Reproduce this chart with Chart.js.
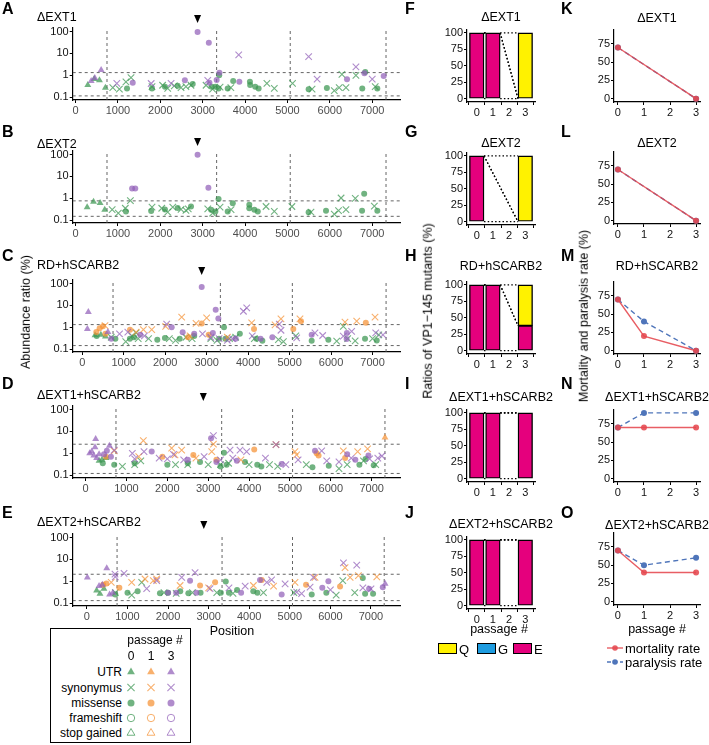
<!DOCTYPE html>
<html>
<head>
<meta charset="utf-8">
<script src="https://cdn.jsdelivr.net/npm/chart.js@4.4.1/dist/chart.umd.min.js"></script>
<style>
  body { margin: 0; background: #fff; }
  #fig { position: relative; width: 709px; height: 745px; overflow: hidden; background: #fff;
         font-family: "Liberation Sans", Arial, Helvetica, sans-serif; }
  #fig canvas { position: absolute; }
  .t { position: absolute; white-space: nowrap; line-height: 1; color: #000; }
</style>
</head>
<body>
<div id="fig"></div>
<script>
// ---------------- data ----------------
// genome landmarks (dashed vertical lines) and the VP1-145 site (arrow)
const genomeBounds = [743, 3330, 5065, 7325];
const vp1Site = 2880;
const posTicks = [0, 1000, 2000, 3000, 4000, 5000, 6000, 7000];
const ratioTicks = [0.1, 1, 10, 100];
const scatterTitles = ['ΔEXT1', 'ΔEXT2', 'RD+hSCARB2', 'ΔEXT1+hSCARB2', 'ΔEXT2+hSCARB2'];
const passageLevels = ['0', '1', '3'];
// variant type codes: u = UTR, s = synonymus, m = missense, f = frameshift, t = stop gained
const variantTypes = ['u', 's', 'm', 'f', 't'];
const variantNames = ['UTR', 'synonymus', 'missense', 'frameshift', 'stop gained'];

// [position, abundance ratio %, type]
const A_p0 = [[290,0.36,'u'],[565,0.59,'u'],[705,0.27,'u'],[440,0.68,'u'],
  [880,0.27,'s'],[1035,0.23,'s'],[1190,0.5,'s'],[1310,0.78,'s'],[1805,0.3,'s'],[2055,0.35,'s'],[2175,0.25,'s'],
  [2330,0.33,'s'],[2490,0.27,'s'],[2605,0.3,'s'],[2725,0.35,'s'],[3080,0.35,'s'],[3235,0.23,'s'],[3410,0.29,'s'],
  [3665,0.27,'s'],[4515,0.43,'s'],[4690,0.25,'s'],[5120,0.43,'s'],[5580,0.23,'s'],[6105,0.2,'s'],[6220,0.27,'s'],
  [6380,0.27,'s'],[6285,1.1,'s'],[6615,1.0,'s'],[7070,0.3,'s'],
  [1215,0.25,'m'],[1805,0.25,'m'],[2110,0.3,'m'],[2410,0.33,'m'],[2765,0.4,'m'],[3210,0.3,'m'],[3300,0.3,'m'],
  [3390,1.0,'m'],[3375,0.25,'m'],[3590,0.25,'m'],[3720,0.55,'m'],[4115,0.51,'m'],[4120,0.36,'m'],[4240,0.3,'m'],
  [4320,0.25,'m'],[5500,0.23,'m'],[5930,0.26,'m'],[6765,0.25,'m'],[6835,1.4,'m'],[7120,0.25,'m']];
const A_p3 = [[605,1.75,'u'],[370,0.55,'u'],[455,0.75,'u'],
  [3850,8.5,'s'],[5500,7.1,'s'],[6615,2.4,'s'],[975,0.43,'s'],[1785,0.42,'s'],[2255,0.43,'s'],[3120,0.59,'s'],
  [5700,0.66,'s'],[7000,0.66,'s'],
  [2880,95,'m'],[3145,31,'m'],[3395,1.3,'m'],[3330,0.6,'m'],[2580,0.59,'m'],[3865,0.51,'m'],[6405,0.66,'m'],
  [3160,0.46,'m'],[1350,0.46,'m'],[6815,1.23,'m'],[7270,0.93,'m']];

const B_p0 = [[275,0.39,'u'],[425,0.7,'u'],[580,0.61,'u'],[690,0.3,'u'],
  [865,0.3,'s'],[1010,0.21,'s'],[1175,0.35,'s'],[1295,0.78,'s'],[1805,0.39,'s'],[2035,0.35,'s'],[2175,0.23,'s'],
  [2295,0.39,'s'],[2490,0.31,'s'],[2605,0.28,'s'],[2660,0.33,'s'],[3120,0.33,'s'],[3235,0.21,'s'],[3410,0.39,'s'],
  [3670,0.3,'s'],[4495,0.42,'s'],[4690,0.25,'s'],[5105,0.42,'s'],[5555,0.23,'s'],[6105,0.19,'s'],[6205,0.27,'s'],
  [6380,0.3,'s'],[6265,1.03,'s'],[6600,1.0,'s'],[7050,0.44,'s'],
  [1190,0.25,'m'],[1785,0.26,'m'],[2110,0.31,'m'],[2410,0.36,'m'],[2725,0.42,'m'],[3200,0.3,'m'],[3300,0.25,'m'],
  [3375,0.93,'m'],[3590,0.25,'m'],[3710,0.59,'m'],[4100,0.5,'m'],[4100,0.35,'m'],[4220,0.3,'m'],[4300,0.25,'m'],
  [5500,0.23,'m'],[5910,0.27,'m'],[6810,1.6,'m'],[6760,0.27,'m'],[7120,0.27,'m']];
const B_p3 = [[2880,98,'m'],[1335,2.8,'m'],[1410,2.8,'m'],[3135,3.0,'m']];

const C_p0 = [[310,0.43,'u'],[450,0.46,'u'],[560,0.38,'u'],
  [700,0.35,'s'],[1050,0.22,'s'],[1200,0.4,'s'],[1300,0.55,'s'],[1350,0.3,'s'],[1600,0.3,'s'],[2100,0.3,'s'],
  [2250,0.25,'s'],[2500,0.35,'s'],[2650,0.3,'s'],[3100,0.3,'s'],[3250,0.25,'s'],[3550,0.3,'s'],[3700,0.35,'s'],
  [4150,0.3,'s'],[4730,0.27,'s'],[4850,0.22,'s'],[5150,0.4,'s'],[6135,0.23,'s'],[6295,1.1,'s'],[6580,0.24,'s'],
  [6400,0.3,'s'],[7000,0.3,'s'],[7150,0.45,'s'],
  [350,0.4,'m'],[800,0.3,'m'],[1150,0.3,'m'],[1250,0.35,'m'],[1810,0.27,'m'],[1994,0.32,'m'],[2350,0.3,'m'],
  [2700,0.4,'m'],[3300,0.3,'m'],[3418,1.0,'m'],[3450,0.3,'m'],[3800,0.5,'m'],[4200,0.3,'m'],[4343,0.24,'m'],
  [5532,0.24,'m'],[5934,0.27,'m'],[6818,0.3,'m'],[7100,0.25,'m']];
const C_p1 = [[2398,2.9,'s'],[3000,2.7,'s'],[2744,1.5,'s'],[2012,1.1,'s'],[1676,0.78,'s'],[1475,0.78,'s'],
  [550,1.2,'s'],[4085,1.6,'s'],[4649,1.3,'s'],[4792,2.4,'s'],[5250,2.4,'s'],[6335,1.7,'s'],[6617,1.9,'s'],
  [7059,2.9,'s'],[1300,0.6,'s'],[2600,0.4,'s'],[3500,0.35,'s'],
  [2881,1.5,'m'],[1153,0.78,'m'],[340,0.6,'m'],[420,0.9,'m'],[500,1.1,'m'],[560,0.5,'m'],[4142,0.84,'m'],
  [5089,0.84,'m'],[5274,1.9,'m'],[6837,1.6,'m'],[3050,0.45,'m'],[2550,0.35,'m']];
const C_p3 = [[148,5.0,'u'],[125,0.84,'u'],[620,0.6,'u'],
  [3966,7.7,'s'],[3886,5.4,'s'],[2036,1.4,'s'],[4752,1.4,'s'],[4792,0.73,'s'],[5170,0.33,'s'],[5611,0.55,'s'],
  [5797,0.42,'s'],[6295,0.39,'s'],[6495,0.65,'s'],[7075,0.55,'s'],[7250,0.45,'s'],[900,0.5,'s'],[1100,0.6,'s'],
  [1500,0.4,'s'],[3100,0.35,'s'],[3300,0.3,'s'],[3500,0.25,'s'],[3620,0.3,'s'],[4100,0.4,'s'],[2900,0.5,'s'],
  [2881,70,'m'],[3218,6.4,'m'],[3282,2.5,'m'],[2157,1.0,'m'],[2422,0.59,'m'],[4584,0.35,'m'],[5532,0.46,'m'],
  [6375,0.29,'m'],[6380,0.55,'m'],[700,0.3,'m'],[1400,0.45,'m'],[2700,0.5,'m'],[3150,0.55,'m'],[3700,0.3,'m'],
  [4300,0.3,'m']];

const D_p0 = [[330,0.45,'u'],[400,0.5,'u'],[500,0.6,'u'],
  [900,0.25,'s'],[1200,0.3,'s'],[1350,0.45,'s'],[2200,0.3,'s'],[2500,0.3,'s'],[3000,0.3,'s'],[3300,0.3,'s'],
  [3500,0.35,'s'],[4000,0.3,'s'],[4500,0.3,'s'],[4700,0.25,'s'],[5400,0.3,'s'],[6200,0.2,'s'],[6400,0.3,'s'],
  [6800,0.45,'s'],[7100,0.3,'s'],
  [420,0.35,'m'],[700,0.3,'m'],[1200,0.35,'m'],[2000,0.3,'m'],[2500,0.35,'m'],[2800,0.4,'m'],[3300,0.25,'m'],
  [3386,1.07,'m'],[3450,0.3,'m'],[3900,0.4,'m'],[4200,0.3,'m'],[4300,0.25,'m'],[5550,0.23,'m'],[5950,0.27,'m'],
  [6700,0.3,'m'],[6850,0.55,'m'],[7050,0.28,'m']];
const D_p1 = [[7326,5.2,'u'],
  [1413,3.8,'s'],[700,1.3,'s'],[2106,1.7,'s'],[2350,1.4,'s'],[2187,0.84,'s'],[3127,2.6,'s'],[3086,1.2,'s'],
  [5122,1.2,'s'],[5163,0.84,'s'],[6306,1.3,'s'],[6657,1.2,'s'],[4658,2.5,'s'],[1300,0.7,'s'],[2700,0.6,'s'],
  [6900,1.6,'s'],[3800,0.5,'s'],
  [1878,0.7,'m'],[2636,0.84,'m'],[4126,1.5,'m'],[5653,1.0,'m'],[5700,0.8,'m'],[3200,0.5,'m'],[500,0.7,'m'],
  [6350,0.6,'m']];
const D_p3 = [[246,4.5,'u'],[230,1.9,'u'],[100,1.0,'u'],[200,0.8,'u'],[270,0.6,'u'],[150,1.2,'u'],[583,2.2,'u'],
  [330,0.9,'u'],
  [3127,6.4,'s'],[700,1.4,'s'],[1143,1.0,'s'],[1429,1.2,'s'],[1200,0.55,'s'],[1800,0.6,'s'],[2000,0.55,'s'],
  [2150,0.9,'s'],[2400,0.5,'s'],[2900,0.7,'s'],[3534,1.4,'s'],[3778,1.4,'s'],[3940,1.2,'s'],[3300,0.5,'s'],
  [3600,0.6,'s'],[4400,0.6,'s'],[4658,2.5,'s'],[4900,0.3,'s'],[5200,0.5,'s'],[5776,1.3,'s'],[5900,0.45,'s'],
  [6200,0.4,'s'],[6500,0.6,'s'],[6950,0.55,'s'],[7150,0.6,'s'],[7250,0.75,'s'],
  [3070,4.8,'m'],[450,0.9,'m'],[520,1.3,'m'],[620,0.7,'m'],[1617,1.2,'m'],[2500,0.5,'m'],[3200,0.4,'m'],
  [3700,0.45,'m'],[4797,0.32,'m'],[5613,1.3,'m'],[6400,0.9,'m'],[6600,0.5,'m'],[6920,0.8,'m']];

const E_p0 = [[240,0.38,'u'],[322,0.27,'u'],[420,0.45,'u'],
  [1103,0.23,'s'],[1350,0.9,'s'],[700,0.3,'s'],[1900,0.3,'s'],[2200,0.28,'s'],[2600,0.3,'s'],[3200,0.3,'s'],
  [3600,0.28,'s'],[4350,0.3,'s'],[5100,0.3,'s'],[6142,0.23,'s'],[6305,1.07,'s'],[6600,0.3,'s'],
  [700,0.25,'m'],[1000,0.3,'m'],[1250,0.35,'m'],[1800,0.28,'m'],[2000,0.3,'m'],[2300,0.35,'m'],[2500,0.28,'m'],
  [2800,0.3,'m'],[3300,0.3,'m'],[3421,0.97,'m'],[3500,0.3,'m'],[3700,0.4,'m'],[4100,0.35,'m'],[4200,0.3,'m'],
  [5540,0.25,'m'],[5900,0.3,'m'],[6798,1.4,'m'],[6855,0.27,'m'],[7052,0.27,'m']];
const E_p1 = [[6361,4.2,'s'],[1103,0.9,'s'],[1432,1.27,'s'],[1637,1.07,'s'],[1719,1.27,'s'],[2296,0.64,'s'],
  [4103,0.64,'s'],[5128,0.9,'s'],[5621,1.5,'s'],[6486,1.5,'s'],[6690,1.8,'s'],[7143,1.6,'s'],[600,0.9,'s'],
  [3000,0.5,'s'],[4600,0.6,'s'],
  [400,0.7,'m'],[480,0.8,'m'],[2789,0.64,'m'],[3159,0.9,'m'],[4308,1.15,'m'],[6238,0.58,'m'],[800,0.5,'m'],
  [5400,0.7,'m']];
const E_p3 = [[11,1.5,'u'],[489,3.9,'u'],[300,0.6,'u'],[380,0.7,'u'],[560,0.25,'u'],[640,0.3,'u'],[7348,0.78,'u'],
  [6321,7,'s'],[6649,5.5,'s'],[692,2.1,'s'],[700,1.6,'s'],[915,2.3,'s'],[1473,0.46,'s'],[1720,1.07,'s'],
  [2336,1.5,'s'],[2665,2.5,'s'],[3034,0.46,'s'],[3500,0.5,'s'],[3900,0.6,'s'],[4432,0.9,'s'],[4551,1.15,'s'],
  [4884,0.76,'s'],[5170,0.32,'s'],[5290,0.27,'s'],[5499,0.54,'s'],[5582,1.5,'s'],[6000,0.4,'s'],[6800,0.5,'s'],
  [7000,0.45,'s'],
  [2542,1.07,'m'],[2000,0.3,'m'],[2200,0.3,'m'],[2700,0.3,'m'],[4266,1.15,'m'],[4799,0.25,'m'],[5950,1.0,'m'],
  [5800,0.5,'m'],[6953,0.46,'m'],[7291,0.53,'m'],[3800,0.3,'m']];

// dashed threshold lines per panel [upper, lower]
const thresholds = [[1.32, 0.114], [0.76, 0.15], [1.32, 0.145], [2.6, 0.12], [2.1, 0.13]];

// VP1-145 mutant shares (%) per passage 0,1,2,3 (null = not sequenced)
const barPassages = [0, 1, 2, 3];
const barTitles = ['ΔEXT1', 'ΔEXT2', 'RD+hSCARB2', 'ΔEXT1+hSCARB2', 'ΔEXT2+hSCARB2'];
const shareE = [[100, 100, null, null], [100, null, null, null], [100, 100, null, 38], [100, 100, null, 100], [100, 100, null, 100]];
const shareG = [[null, null, null, null], [null, null, null, null], [null, null, null, null], [null, null, null, null], [null, null, null, null]];
const shareQ = [[null, null, null, 100], [null, null, null, 100], [null, null, null, 62], [null, null, null, null], [null, null, null, null]];

// mortality / paralysis rate (%) per passage
const rateTitles = ['ΔEXT1', 'ΔEXT2', 'RD+hSCARB2', 'ΔEXT1+hSCARB2', 'ΔEXT2+hSCARB2'];
const ratePassages = [[0, 3], [0, 3], [0, 1, 3], [0, 1, 3], [0, 1, 3]];
const mortality = [[70, 0], [70, 0], [70, 20, 0], [70, 70, 70], [70, 40, 40]];
const paralysis = [[70, 0], [70, 0], [70, 40, 0], [70, 90, 90], [70, 50, 60]];

// ---------------- layout / style ----------------
const FONT = '"Liberation Sans", Arial, Helvetica, sans-serif';
const fig = document.getElementById('fig');
const scatterData = [[A_p0, null, A_p3], [B_p0, null, B_p3], [C_p0, C_p1, C_p3], [D_p0, D_p1, D_p3], [E_p0, E_p1, E_p3]];
const passageColor = ['rgba(58,150,80,0.72)', 'rgba(245,146,52,0.72)', 'rgba(146,96,184,0.72)'];
const typeStyle = {
  u: { pointStyle: 'triangle', radius: 4, fill: true, bw: 0 },
  s: { pointStyle: 'crossRot', radius: 4.6, fill: false, bw: 1.1 },
  m: { pointStyle: 'circle', radius: 3, fill: true, bw: 0 },
  f: { pointStyle: 'circle', radius: 3.2, fill: false, bw: 1 },
  t: { pointStyle: 'triangle', radius: 4, fill: false, bw: 1 }
};
const scatterTop = [28, 151, 280, 406, 534];
const scatterTitleY = [17, 144, 265, 395, 522];
const scatterXRange = [[-66, 7655], [-66, 7655], [-229, 7661], [-316, 7693], [-350, 7715]];
const SC_H = 72, SC_LEFT = 72.7, SC_RIGHT = 400;
const RATIO_MIN = 0.074, RATIO_MAX = 145;

const BAR_LEFT = 467, BAR_RIGHT = 535, BAR_H = 76;
const barBottom = [101.5, 224.5, 353.5, 481.5, 608.5];
const barTitleY = [17, 143, 266, 397, 524];
const BAR_XMIN = -0.6, BAR_XMAX = 3.6, BAR_FRAC = 0.9;
const barColor = { Q: '#FFF200', G: '#1E9CE0', E: '#E5007D' };

const LN_LEFT = 614, LN_RIGHT = 700, LN_H = 74.7;
const lineBottom = [102.4, 224.4, 354.4, 482.4, 605.4];
const lineTitleY = [18, 143, 266, 397, 525];
const RED = 'rgba(229,72,79,0.88)', BLUE = '#4F75BA';

const letterY = [9, 132, 256, 384, 513];

function addText(str, x, y, o = {}) {
  const d = document.createElement('div');
  d.className = 't';
  d.textContent = str;
  d.style.left = x + 'px';
  d.style.top = y + 'px';
  d.style.fontSize = (o.size || 12) + 'px';
  if (o.bold) d.style.fontWeight = 'bold';
  if (o.color) d.style.color = o.color;
  const ax = o.ax === undefined ? 0 : o.ax;
  d.style.transform = `translate(${-ax * 100}%, -50%)` + (o.rot ? ` rotate(${o.rot}deg)` : '');
  fig.appendChild(d);
  return d;
}

function addCanvas(x, y, w, h) {
  const c = document.createElement('canvas');
  c.width = w; c.height = h;
  c.style.left = x + 'px'; c.style.top = y + 'px';
  c.style.width = w + 'px'; c.style.height = h + 'px';
  fig.appendChild(c);
  return c;
}

function axisStyle(color) {
  return {
    grid: { display: true, drawOnChartArea: false, drawTicks: true, tickLength: 3, color: '#000', lineWidth: 1 },
    border: { display: true, color: '#000', width: 1.2 },
    ticks: { font: { family: FONT, size: 11 }, color: color, padding: 1, maxRotation: 0, autoSkip: false }
  };
}

function fixedTicks(list) {
  return s => { s.ticks = list.map(v => ({ value: v })); };
}

// arrow marking VP1-145, drawn above the plot on the x scale
const arrowPlugin = {
  id: 'vp1Arrow',
  afterDraw(chart, args, opts) {
    if (opts.x == null) return;
    const { ctx, chartArea } = chart;
    const x = chart.scales.x.getPixelForValue(opts.x);
    const y = chartArea.top - 9;
    ctx.save();
    ctx.fillStyle = '#000';
    ctx.beginPath();
    ctx.moveTo(x - 3.5, y - 4);
    ctx.lineTo(x + 3.5, y - 4);
    ctx.lineTo(x, y + 4);
    ctx.closePath();
    ctx.fill();
    ctx.restore();
  }
};

Chart.defaults.font.family = FONT;
Chart.defaults.animation = false;

// ---------------- scatter panels A-E ----------------
function scatterChart(i) {
  const top = scatterTop[i];
  const [xmin, xmax] = scatterXRange[i];
  const cv = addCanvas(0, top - 20, SC_RIGHT + 2, 20 + SC_H + 22);
  const datasets = [];
  scatterData[i].forEach((pts, pi) => {
    if (!pts) return;
    variantTypes.forEach(t => {
      const sel = pts.filter(p => p[2] === t);
      if (!sel.length) return;
      const st = typeStyle[t];
      datasets.push({
        data: sel.map(p => ({ x: p[0], y: p[1] })),
        pointStyle: st.pointStyle,
        pointRadius: st.radius,
        pointBorderWidth: st.bw,
        pointBackgroundColor: st.fill ? passageColor[pi] : 'rgba(0,0,0,0)',
        pointBorderColor: passageColor[pi],
        showLine: false,
        order: 5 - pi
      });
    });
  });
  const dashed = { showLine: true, pointRadius: 0, borderColor: '#555', borderWidth: 0.9, borderDash: [3, 3], order: 10 };
  genomeBounds.forEach(b => datasets.push(Object.assign({ data: [{ x: b, y: RATIO_MIN }, { x: b, y: RATIO_MAX }] }, dashed)));
  thresholds[i].forEach(h => datasets.push(Object.assign({ data: [{ x: xmin, y: h }, { x: xmax, y: h }] }, dashed)));

  const xs = axisStyle('#4d4d4d');
  const ys = axisStyle('#111');
  new Chart(cv, {
    type: 'scatter',
    data: { datasets },
    plugins: [arrowPlugin],
    options: {
      responsive: false,
      devicePixelRatio: 1,
      layout: { padding: { top: 20, right: 2, left: 0, bottom: 0 }, autoPadding: false },
      plugins: { legend: { display: false }, tooltip: { enabled: false }, vp1Arrow: { x: vp1Site } },
      scales: {
        x: Object.assign(xs, {
          type: 'linear', min: xmin, max: xmax,
          afterBuildTicks: fixedTicks(posTicks),
          afterFit: s => { s.height = 22; },
          ticks: Object.assign(xs.ticks, { callback: v => String(v) })
        }),
        y: Object.assign(ys, {
          type: 'logarithmic', min: RATIO_MIN, max: RATIO_MAX,
          afterBuildTicks: fixedTicks(ratioTicks),
          afterFit: s => { s.width = SC_LEFT; },
          ticks: Object.assign(ys.ticks, { callback: v => String(v) })
        })
      }
    }
  });
  addText(scatterTitles[i], 37, scatterTitleY[i], { size: 12.5 });
}

// ---------------- stacked bar panels F-J ----------------
function barChart(i) {
  const bottom = barBottom[i], top = bottom - BAR_H;
  const yw = 47;
  const cv = addCanvas(BAR_LEFT - yw, top - 4, yw + (BAR_RIGHT - BAR_LEFT) + 5, 4 + BAR_H + 20);
  const pxPerUnit = (BAR_RIGHT - BAR_LEFT) / (BAR_XMAX - BAR_XMIN);
  const half = BAR_FRAC / 2;
  const mk = (label, arr, color) => ({
    type: 'bar', label,
    data: barPassages.map((p, k) => ({ x: p, y: arr[k] })),
    backgroundColor: color, borderColor: '#000', borderWidth: 1.4, borderSkipped: false,
    barThickness: BAR_FRAC * pxPerUnit, stack: 'share', order: 1
  });
  const datasets = [mk('E', shareE[i], barColor.E), mk('G', shareG[i], barColor.G), mk('Q', shareQ[i], barColor.Q)];
  // dotted connectors between cumulative boundaries of consecutive bars
  const present = barPassages.map((p, k) => k).filter(k => shareE[i][k] != null || shareQ[i][k] != null || shareG[i][k] != null);
  const bounds = k => {
    const e = shareE[i][k] || 0, g = shareG[i][k] || 0, q = shareQ[i][k] || 0;
    return [0, e, e + g, e + g + q];
  };
  let n = 0;
  for (let j = 0; j + 1 < present.length; j++) {
    const a = present[j], b = present[j + 1];
    const ba = bounds(a), bb = bounds(b);
    ba.forEach((v, m) => {
      datasets.push({
        type: 'line', stack: 'c' + (n++), order: 0,
        data: [{ x: barPassages[a] + half, y: v }, { x: barPassages[b] - half, y: bb[m] }],
        borderColor: '#000', borderWidth: 1.3, borderDash: [1.5, 2.2], pointRadius: 0, fill: false
      });
    });
  }
  const xs = axisStyle('#111');
  const ys = axisStyle('#111');
  new Chart(cv, {
    type: 'bar',
    data: { datasets },
    options: {
      responsive: false,
      devicePixelRatio: 1,
      layout: { padding: { top: 4, right: 5, left: 0, bottom: 0 }, autoPadding: false },
      plugins: { legend: { display: false }, tooltip: { enabled: false } },
      scales: {
        x: Object.assign(xs, {
          type: 'linear', min: BAR_XMIN, max: BAR_XMAX, stacked: true, offset: false,
          afterBuildTicks: fixedTicks(barPassages),
          afterFit: s => { s.height = 20; },
          ticks: Object.assign(xs.ticks, { callback: v => String(v) })
        }),
        y: Object.assign(ys, {
          type: 'linear', min: -5, max: 105, stacked: true,
          afterBuildTicks: fixedTicks([0, 25, 50, 75, 100]),
          afterFit: s => { s.width = yw; },
          ticks: Object.assign(ys.ticks, { callback: v => String(v) })
        })
      }
    }
  });
  addText(barTitles[i], (BAR_LEFT + BAR_RIGHT) / 2, barTitleY[i], { size: 12.5, ax: 0.5 });
}

// ---------------- mortality / paralysis panels K-O ----------------
function rateChart(i) {
  const bottom = lineBottom[i], top = bottom - LN_H;
  const yw = 44;
  const cv = addCanvas(LN_LEFT - yw, top - 6, yw + (LN_RIGHT - LN_LEFT) + 6, 6 + LN_H + 20);
  const pts = arr => ratePassages[i].map((p, k) => ({ x: p, y: arr[k] }));
  const xs = axisStyle('#111');
  const ys = axisStyle('#111');
  new Chart(cv, {
    type: 'scatter',
    data: {
      datasets: [
        { label: 'mortality rate', data: pts(mortality[i]), showLine: true, borderColor: RED, backgroundColor: RED,
          borderWidth: 1.4, pointRadius: 3, pointBorderWidth: 0, pointBackgroundColor: RED, order: 1 },
        { label: 'paralysis rate', data: pts(paralysis[i]), showLine: true, borderColor: BLUE, backgroundColor: BLUE,
          borderWidth: 1.4, borderDash: [5, 3.5], pointRadius: 3, pointBorderWidth: 0, pointBackgroundColor: BLUE, order: 2 }
      ]
    },
    options: {
      responsive: false,
      devicePixelRatio: 1,
      layout: { padding: { top: 6, right: 6, left: 0, bottom: 0 }, autoPadding: false },
      plugins: { legend: { display: false }, tooltip: { enabled: false } },
      scales: {
        x: Object.assign(xs, {
          type: 'linear', min: -0.15, max: 3.15,
          afterBuildTicks: fixedTicks([0, 1, 2, 3]),
          afterFit: s => { s.height = 20; },
          ticks: Object.assign(xs.ticks, { callback: v => String(v) })
        }),
        y: Object.assign(ys, {
          type: 'linear', min: -4.5, max: 94.5,
          afterBuildTicks: fixedTicks([0, 25, 50, 75]),
          afterFit: s => { s.width = yw; },
          ticks: Object.assign(ys.ticks, { callback: v => String(v) })
        })
      }
    }
  });
  addText(rateTitles[i], (LN_LEFT + LN_RIGHT) / 2, lineTitleY[i], { size: 12.5, ax: 0.5 });
}

for (let i = 0; i < 5; i++) { scatterChart(i); barChart(i); rateChart(i); }

// panel letters
['A', 'B', 'C', 'D', 'E'].forEach((l, i) => addText(l, 2, letterY[i], { size: 16, bold: true }));
['F', 'G', 'H', 'I', 'J'].forEach((l, i) => addText(l, 405, letterY[i], { size: 16, bold: true }));
['K', 'L', 'M', 'N', 'O'].forEach((l, i) => addText(l, 561, letterY[i], { size: 16, bold: true }));

// axis titles
addText('Abundance ratio (%)', 26, 312, { size: 12.5, ax: 0.5, rot: -90 });
addText('Ratios of VP1\u2212145 mutants (%)', 428, 311, { size: 12.5, ax: 0.5, rot: -90 });
addText('Mortality and paralysis rate (%)', 584, 316, { size: 12.5, ax: 0.5, rot: -90 });
addText('Position', 232, 631, { size: 12.5, ax: 0.5 });
addText('passage #', 499, 629, { size: 12.5, ax: 0.5 });
addText('passage #', 657, 629, { size: 12.5, ax: 0.5 });

// ---------------- legends ----------------
// variant legend (left)
const box = document.createElement('div');
box.style.cssText = 'position:absolute;left:50px;top:628px;width:139px;height:113px;border:1.5px solid #000;';
fig.appendChild(box);
addText('passage #', 155, 640, { size: 12, ax: 0.5 });
const legCols = [131, 151, 171];
passageLevels.forEach((p, k) => addText(p, legCols[k], 656, { size: 12, ax: 0.5 }));
const legRowY = [672, 687.5, 703, 718, 733];
variantNames.forEach((nm, r) => addText(nm, 122, legRowY[r], { size: 12, ax: 1 }));
const lg = addCanvas(120, 662, 62, 80);
const lctx = lg.getContext('2d');
variantTypes.forEach((t, r) => {
  const st = typeStyle[t];
  passageColor.forEach((col, k) => {
    lctx.save();
    lctx.fillStyle = st.fill ? col : 'rgba(0,0,0,0)';
    lctx.strokeStyle = col;
    lctx.lineWidth = st.bw;
    Chart.helpers.drawPoint(lctx, { pointStyle: st.pointStyle, radius: st.radius + 0.5, rotation: 0, borderWidth: st.bw },
      legCols[k] - 120, legRowY[r] - 662);
    lctx.restore();
  });
});

// Q / G / E legend (middle)
[['Q', 438], ['G', 477], ['E', 513]].forEach(([k, x]) => {
  const b = document.createElement('div');
  b.style.cssText = `position:absolute;left:${x}px;top:643px;width:17px;height:9px;border:1.3px solid #000;background:${barColor[k]};`;
  fig.appendChild(b);
  addText(k, x + 21, 649, { size: 13 });
});

// rate legend (right)
const svgNS = 'http://www.w3.org/2000/svg';
const svg = document.createElementNS(svgNS, 'svg');
svg.setAttribute('width', '20'); svg.setAttribute('height', '26');
svg.style.cssText = 'position:absolute;left:605px;top:642px;';
[[RED, 6, null], [BLUE, 20, '4,2.5']].forEach(([c, y, dash]) => {
  const ln = document.createElementNS(svgNS, 'line');
  ln.setAttribute('x1', 2); ln.setAttribute('x2', 18); ln.setAttribute('y1', y); ln.setAttribute('y2', y);
  ln.setAttribute('stroke', c); ln.setAttribute('stroke-width', 1.4);
  if (dash) ln.setAttribute('stroke-dasharray', dash);
  svg.appendChild(ln);
  const dot = document.createElementNS(svgNS, 'circle');
  dot.setAttribute('cx', 10); dot.setAttribute('cy', y); dot.setAttribute('r', 2.8); dot.setAttribute('fill', c);
  svg.appendChild(dot);
});
fig.appendChild(svg);
addText('mortality rate', 625, 648, { size: 13 });
addText('paralysis rate', 625, 662, { size: 13 });
</script>
</body>
</html>
